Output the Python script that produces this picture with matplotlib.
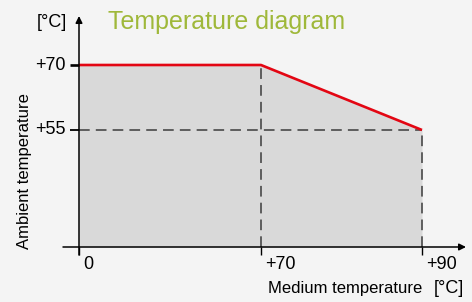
import matplotlib
matplotlib.use("Agg")
import matplotlib.pyplot as plt
import numpy as np

plt.rcParams['font.family'] = ['Liberation Sans', 'DejaVu Sans']

# derating curve: ambient limit vs medium temperature
medium = [0, 70, 90]
ambient = [70, 70, 55]
x_ticks = [0, 70, 90]
x_labels = ['0', '+70', '+90']
y_ticks = [55, 70]
y_labels = ['+55', '+70']

title = 'Temperature diagram'
xlabel = 'Medium temperature'
ylabel = 'Ambient temperature'
unit = '[°C]'

# schematic (non-linear) axes: knots -> screen units
x_knots = [0, 70, 90, 100]
x_pos = [0, 182, 343, 387]
y_knots = [0, 55, 70, 80]
y_pos = [0, 117, 182, 231]

def fx(v):
    return np.interp(v, x_knots, x_pos)
def ix(v):
    return np.interp(v, x_pos, x_knots)
def fy(v):
    return np.interp(v, y_knots, y_pos)
def iy(v):
    return np.interp(v, y_pos, y_knots)

bg = '#f4f4f4'
red = '#e30613'
dash_c = '#3c3c3c'
green = '#9fb83a'

W, H = 472, 302
fig = plt.figure(figsize=(W / 100, H / 100), dpi=100, facecolor=bg)
ax = fig.add_axes([79 / W, (H - 247) / H, (466 - 79) / W, (247 - 16) / H])
ax.set_facecolor(bg)
ax.set_xscale('function', functions=(fx, ix))
ax.set_yscale('function', functions=(fy, iy))
ax.set_xlim(0, 100)
ax.set_ylim(0, 80)
for s in ax.spines.values():
    s.set_visible(False)

ax.fill_between(medium, ambient, 0, color='#d9d9d9', lw=0, zorder=1)
ax.plot([70, 70], [0, 70], color=dash_c, lw=1.1, ls=(0, (7, 4)), zorder=2)
ax.plot([90, 90], [0, 55], color=dash_c, lw=1.1, ls=(0, (7, 4)), zorder=2)
ax.plot([0, 90], [55, 55], color=dash_c, lw=1.1, ls=(0, (7, 4)), zorder=2)
ax.plot(medium, ambient, color=red, lw=1.9, zorder=3, solid_capstyle='butt')

# axis arrows
ax.annotate('', xy=(1, 0), xytext=(-16 / 387, 0), xycoords='axes fraction',
            arrowprops=dict(arrowstyle='-|>', color='black', lw=1.1,
                            mutation_scale=10, shrinkA=0, shrinkB=0), zorder=4)
ax.annotate('', xy=(0, 1), xytext=(0, -8 / 231), xycoords='axes fraction',
            arrowprops=dict(arrowstyle='-|>', color='black', lw=1.1,
                            mutation_scale=10, shrinkA=0, shrinkB=0), zorder=4)

ax.set_xticks(x_ticks)
ax.set_xticklabels([])
ax.set_yticks(y_ticks)
ax.set_yticklabels([])
ax.minorticks_off()
ax.tick_params(axis='x', direction='out', length=6, width=1.0, color='black')
ax.tick_params(axis='y', direction='out', length=6.5, width=1.3)
ax.yaxis.get_major_ticks()[0].tick1line.set_color(dash_c)
ax.yaxis.get_major_ticks()[1].tick1line.set_color(red)
ax.yaxis.get_major_ticks()[1].tick1line.set_markeredgewidth(1.9)

fs = 13
for v, lab in zip(x_ticks, x_labels):
    ax.annotate(lab, xy=(v, 0), xycoords=('data', 'axes fraction'),
                xytext=(3.0, -6.5), textcoords='offset points',
                ha='left', va='top', fontsize=fs)
for v, lab in zip(y_ticks, y_labels):
    ax.annotate(lab, xy=(0, v), xycoords=('axes fraction', 'data'),
                xytext=(-9.5, 0), textcoords='offset points',
                ha='right', va='center', fontsize=fs)

fig.text(268 / W, (H - 293) / H, xlabel, ha='left', va='baseline', fontsize=12)
fig.text(464 / W, (H - 293) / H, unit, ha='right', va='baseline', fontsize=fs)
fig.text(67 / W, (H - 27) / H, unit, ha='right', va='baseline', fontsize=fs)
fig.text(25 / W, (H - 171) / H, ylabel, rotation=90, ha='center', va='center', fontsize=12)
fig.text(108 / W, (H - 29) / H, title, ha='left', va='baseline', fontsize=18, color=green)

fig.savefig('out.png', dpi=100, facecolor=bg)
